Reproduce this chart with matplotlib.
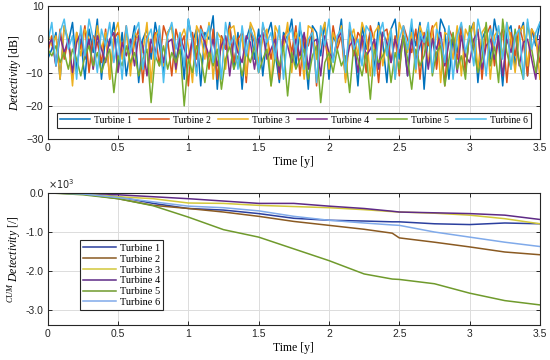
import numpy as np
import matplotlib
matplotlib.use('Agg')
import matplotlib.pyplot as plt

plt.rcParams['mathtext.fontset'] = 'custom'
plt.rcParams['mathtext.rm'] = 'Liberation Serif'
plt.rcParams['mathtext.it'] = 'Liberation Serif:italic'

turbine_labels = ['Turbine 1', 'Turbine 2', 'Turbine 3', 'Turbine 4', 'Turbine 5', 'Turbine 6']

det_t1 = [-6, -3, 2, -12, 4, -1, 5, -9, 0, -12, 3, -4, 6, -12, 1, -2, 5, -8, 2, -11,
          -3, 4, -13, 0, 3, -6, 5, -2, -10, 2, 4, -7, 1, -12, 6, -1, 3, -14, 2, 0,
          7, -15, 1, -3, 5, -9, 2, -15, 0, 4, -6, 3, -11, 1, 5, -4, -13, 2, 0, 6,
          -8, 3, -1, -15, 4, 2, -5, 5, -12, 1, -2, 6, -10, 3, 0, -14, 4, -3, 2, -9,
          5, -1, -13, 3, 6, -6, 1, -11, 4, -2, 5, -15, 2, 0, -7, 6, 3, -12, 1, -4,
          4, -10, 2, 5, -13, 0, 3, -6, 6, -1, -14, 2, 4, -8, 1, 5, -11, 3, -2, 5]
det_t2 = [-4, 1, -8, 3, -6, 0, -12, 2, -3, 4, -10, 1, -1, -7, 3, -12, 0, 2, -5, 4,
          -9, -1, 3, -13, 1, -4, 2, -8, 4, 0, -11, 3, -2, 1, -14, 2, -6, 4, 0, -9,
          3, -12, 1, -3, 4, -7, 0, 2, -13, 3, -1, -10, 4, 1, -6, 2, -12, 0, 3, -4,
          4, -11, 1, -2, 3, -14, 2, 0, -8, 4, -3, 1, -12, 3, -5, 2, 0, -10, 4, -1,
          -13, 2, 3, -7, 1, -11, 4, 0, -4, 3, -12, 2, -2, 4, -9, 1, -14, 3, 0, -6,
          4, -10, 2, -3, 3, -12, 1, 4, -8, 0, 3, -13, 2, -5, 4, -1, -11, 3, 0, -7]
det_t3 = [3, -2, 1, -12, 4, 0, -14, 2, -5, 3, 0, -9, 4, -3, 2, -12, 1, 5, -6, 3,
          -11, 2, 0, -4, 5, -13, 1, 3, -8, 2, 4, -10, 0, 3, -2, -13, 4, 1, -6, 5,
          -12, 2, 0, -9, 3, 4, -4, 1, -11, 5, 2, -7, 0, 3, -14, 4, 1, -3, 5, -10,
          2, 0, -12, 4, 3, -6, 1, 5, -9, 2, -2, 4, -13, 0, 3, -5, 5, 1, -11, 2,
          4, -8, 0, 3, -12, 5, 1, -4, 2, -10, 4, 0, -7, 3, 5, -13, 2, 1, -6, 4,
          -11, 3, 0, 5, -9, 2, 4, -12, 1, 3, -5, 5, 0, -10, 2, 4, -8, 3, 1, -12]
det_t4 = [-2, 0, -8, 1, -4, 0, -10, -1, 2, -6, 0, -9, 1, -3, -7, 0, 2, -10, -1, -5,
          0, -8, 1, -2, -11, 0, -4, 2, -7, -1, 0, -9, 1, -3, -6, 0, -10, 2, -1, -5,
          0, -8, -2, 1, -11, 0, -4, -7, 1, -1, -9, 0, 2, -6, -3, 0, -10, 1, -2, -7,
          0, -5, 2, -9, -1, 0, -11, 1, -4, -6, 0, 2, -8, -2, 0, -10, 1, -5, -3, 0,
          -9, 2, -1, -7, 0, -4, 1, -11, 0, -6, -2, 1, -9, 0, -3, 2, -8, -1, 0, -10,
          1, -5, -7, 0, 2, -9, -2, 0, -6, 1, -11, 0, -4, 2, -8, -1, 0, -6, -12, 1]
det_t5 = [-3, -5, -2, -7, -4, -9, -3, -6, -11, -5, -2, -8, -4, -10, -6, -3, -16, -5, -8, -2,
          -7, -4, -11, -6, -3, -19, -5, -8, -2, -9, -4, -7, -3, -20, -6, -10, -2, -5, -13, -4,
          -8, -3, -15, -6, -2, -9, -5, -11, -4, -7, -2, -10, -6, -3, -14, -5, -8, -2, -17, -4,
          -9, -6, -3, -12, -5, -2, -19, -7, -4, -10, -3, -8, -5, -16, -2, -6, -11, -4, -18, -3,
          -7, -5, -2, -13, -4, -9, 1, -6, -15, -3, -8, -5, 3, -11, -4, -2, -14, -6, 2, -9,
          -5, -12, 4, -3, -10, -6, 5, -8, -2, -13, 6, -4, -9, 3, -7, -12, 5, -3, -10, -2]
det_t6 = [-1, 5, -8, 2, 6, -3, 1, -12, 4, -5, 6, 0, -10, 3, -2, 5, -7, 1, -12, 4,
          -4, 2, 5, -9, 0, 3, -6, 4, -13, 1, 5, -3, 2, -8, 6, -1, -11, 3, 0, 4,
          -7, 2, -12, 5, -2, 1, -9, 4, -5, 3, 0, -10, 5, -1, 2, -6, 4, -12, 1, 3,
          -4, 5, -9, 0, 2, -13, 4, -2, 6, -7, 1, 3, -10, 5, -3, 0, -8, 4, 2, -11,
          1, 5, -5, 3, -12, 0, 4, -3, 6, -9, 2, -1, 5, -10, 3, 0, -7, 4, -12, 1,
          5, -4, 2, -8, 6, 0, -11, 3, -2, 4, -6, 5, -9, 1, 3, -12, 6, -3, 2, 5]

# ---- data: cumulative detectivity [x10^3] ----
t_cum = [0, 0.25, 0.5, 0.75, 1.0, 1.25, 1.5, 1.75, 2.0, 2.25, 2.45, 2.5, 2.75, 3.0, 3.25, 3.5]
cum_t1 = [0, -0.02, -0.10, -0.27, -0.40, -0.44, -0.53, -0.65, -0.70, -0.72, -0.74, -0.74, -0.79, -0.81, -0.77, -0.79]
cum_t2 = [0, -0.03, -0.15, -0.32, -0.40, -0.49, -0.60, -0.73, -0.83, -0.93, -1.03, -1.15, -1.26, -1.38, -1.51, -1.58]
cum_t3 = [0, -0.02, -0.10, -0.15, -0.26, -0.27, -0.32, -0.35, -0.38, -0.43, -0.48, -0.49, -0.52, -0.57, -0.66, -0.79]
cum_t4 = [0, 0.0, -0.05, -0.10, -0.15, -0.21, -0.27, -0.27, -0.34, -0.40, -0.47, -0.49, -0.51, -0.53, -0.57, -0.68]
cum_t5 = [0, -0.05, -0.15, -0.33, -0.62, -0.94, -1.13, -1.43, -1.73, -2.07, -2.20, -2.21, -2.32, -2.56, -2.75, -2.86]
cum_t6 = [0, -0.03, -0.12, -0.23, -0.34, -0.38, -0.46, -0.60, -0.70, -0.77, -0.82, -0.83, -1.00, -1.13, -1.26, -1.37]

top_colors = ['#0072BD', '#D95319', '#EDB120', '#7E2F8E', '#77AC30', '#4DBEEE']
bot_colors = ['#2b3f9e', '#8a5a22', '#d2c83a', '#5e2a86', '#6f9a2c', '#80aaea']

serif = ['Liberation Serif', 'DejaVu Serif']
sans = ['Liberation Sans', 'DejaVu Sans']

fig = plt.figure(figsize=(5.5, 3.6), dpi=100)
ax1 = fig.add_axes([0.0867, 0.613, 0.895, 0.371])
ax2 = fig.add_axes([0.0867, 0.0964, 0.895, 0.368])

# Top: raw detectivity
for vals, lab, c in zip([det_t1, det_t2, det_t3, det_t4, det_t5, det_t6], turbine_labels, top_colors):
    t = np.linspace(0, 3.5, len(vals))
    ax1.plot(t, vals, color=c, lw=1.1, label=lab)
ax1.set_xlim(0, 3.5)
ax1.set_ylim(-30, 10)
ax1.set_yticks([10, 0, -10, -20, -30])
ax1.set_xticks([0, 0.5, 1, 1.5, 2, 2.5, 3, 3.5])
ax1.set_xticklabels(['0', '0.5', '1', '1.5', '2', '2.5', '3', '3.5'])
ax1.set_xlabel('Time [y]', family=serif, fontsize=8.5, labelpad=2)
ax1.set_ylabel(r'$\mathit{Detectivity}$ [dB]', family=serif, fontsize=8.5, labelpad=2)
leg1 = ax1.legend(ncol=6, loc='lower center', bbox_to_anchor=(0.5, 0.05),
                  prop={'family': serif, 'size': 7}, handlelength=3.1,
                  columnspacing=0.75, handletextpad=0.4, borderpad=0.3,
                  fancybox=False, framealpha=1, edgecolor='#262626')
leg1.get_frame().set_linewidth(0.8)

# Bottom: cumulative detectivity
for vals, lab, c in zip([cum_t1, cum_t2, cum_t3, cum_t4, cum_t5, cum_t6], turbine_labels, bot_colors):
    ax2.plot(t_cum, vals, color=c, lw=1.1, label=lab)
ax2.set_xlim(0, 3.5)
ax2.set_ylim(-3.38, 0)
ax2.set_yticks([0, -1, -2, -3])
ax2.set_yticklabels(['0.0', '-1.0', '-2.0', '-3.0'])
ax2.set_xticks([0, 0.5, 1, 1.5, 2, 2.5, 3, 3.5])
ax2.set_xticklabels(['0', '0.5', '1', '1.5', '2', '2.5', '3', '3.5'])
ax2.set_xlabel('Time [y]', family=serif, fontsize=8.5, labelpad=2)
ax2.set_ylabel(r'$^{\mathit{CUM}}\ \mathit{Detectivity}$ [/]', family=serif, fontsize=8.5, labelpad=2)
ax2.text(0.0, 1.01, r'$\times10^3$', transform=ax2.transAxes, family=sans, fontsize=7,
         ha='left', va='bottom', color='#262626', math_fontfamily='dejavusans')
leg2 = ax2.legend(loc='upper left', bbox_to_anchor=(0.055, 0.68),
                  prop={'family': serif, 'size': 7.5}, handlelength=3.2,
                  handletextpad=0.3, labelspacing=0.15, borderpad=0.3,
                  fancybox=False, framealpha=1, edgecolor='#262626')
leg2.get_frame().set_linewidth(0.8)

for ax in (ax1, ax2):
    ax.grid(True, color='#dcdcdc', lw=0.7)
    ax.set_axisbelow(True)
    for s in ax.spines.values():
        s.set_color('#262626')
        s.set_linewidth(0.8)
    ax.tick_params(direction='in', length=3, width=0.7, colors='#262626',
                   labelsize=7.5, pad=3, top=True, right=True)
    for lbl in ax.get_xticklabels() + ax.get_yticklabels():
        lbl.set_family(sans)

fig.savefig('out.png', dpi=100)
